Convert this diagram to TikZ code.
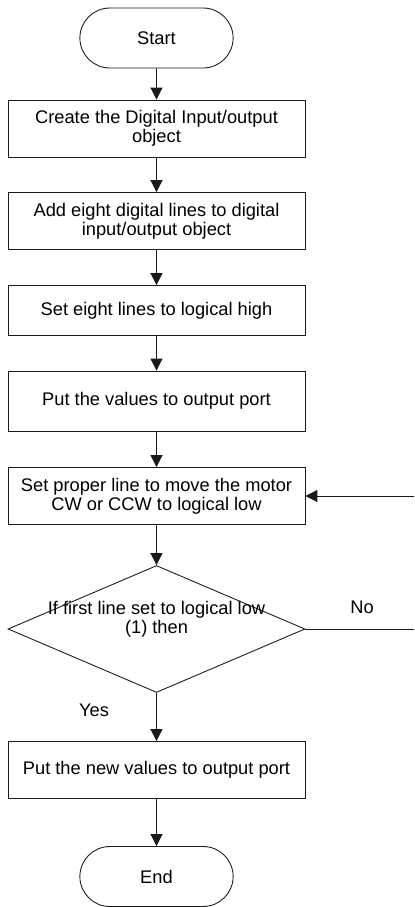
\documentclass[tikz,border=0pt]{standalone}
\usepackage{fontspec}
\setmainfont{Liberation Sans}
\usetikzlibrary{arrows.meta, shapes.geometric, shapes.misc}
\definecolor{inkline}{HTML}{1A1A1A}

\begin{document}
\begin{tikzpicture}[x=0.02cm, y=-0.02cm,
  >={Triangle[length=2.4mm, width=2.4mm]},
  font=\fontsize{10.4}{10.9}\selectfont,
  terminal/.style={draw=inkline, rounded rectangle, minimum width=3.3cm,
    minimum height=1.2cm, line width=0.5pt},
  procbox/.style={draw=inkline, rectangle, minimum width=5.94cm,
    minimum height=1.14cm, align=center, line width=0.5pt},
  decision/.style={draw=inkline, diamond, minimum width=5.94cm,
    minimum height=2.54cm, inner sep=0pt, line width=0.5pt},
  flow/.style={->, draw=inkline, line width=0.5pt}]

% Bounding box
\useasboundingbox (0,0) rectangle (414,907);

% Steps
\node[terminal] (start) at (156.5,38) {Start};
\node[procbox] (create) at (156.5,128.5)
  {Create the Digital Input/output\\object};
\node[procbox] (addlines) at (156.5,221)
  {Add eight digital lines to digital\\input/output object};
\node[procbox, minimum height=1.0cm] (sethigh) at (156.5,310.5)
  {Set eight lines to logical high};
\node[procbox, minimum height=1.2cm] (putvals) at (156.5,401)
  {Put the values to output port};
\node[procbox] (setlow) at (156.5,496)
  {Set proper line to move the motor\\CW or CCW to logical low};

% Decision
\node[decision,
      label={[align=center, yshift=0.2cm]center:{If first line set to logical low\\(1) then}}]
  (check) at (156.5,629) {};

\node[procbox] (putnew) at (156.5,770)
  {Put the new values to output port};
\node[terminal] (stop) at (156.5,876.5) {End};

% Loose ends at the right edge
\coordinate (loopin) at (414,496);
\coordinate (noout) at (414,629);

% Connectors
\draw[flow] (start) -- (create);
\draw[flow] (create) -- (addlines);
\draw[flow] (addlines) -- (sethigh);
\draw[flow] (sethigh) -- (putvals);
\draw[flow] (putvals) -- (setlow);
\draw[flow] (setlow) -- (check);
\draw[flow] (check) -- (putnew);
\draw[flow] (putnew) -- (stop);
\draw[flow] (loopin) -- (setlow.east);
\draw[draw=inkline, line width=0.5pt] (check.east) -- (noout);

% Branch labels
\node (nolabel) at (362,607) {No};
\node (yeslabel) at (94,710) {Yes};

\end{tikzpicture}
\end{document}
